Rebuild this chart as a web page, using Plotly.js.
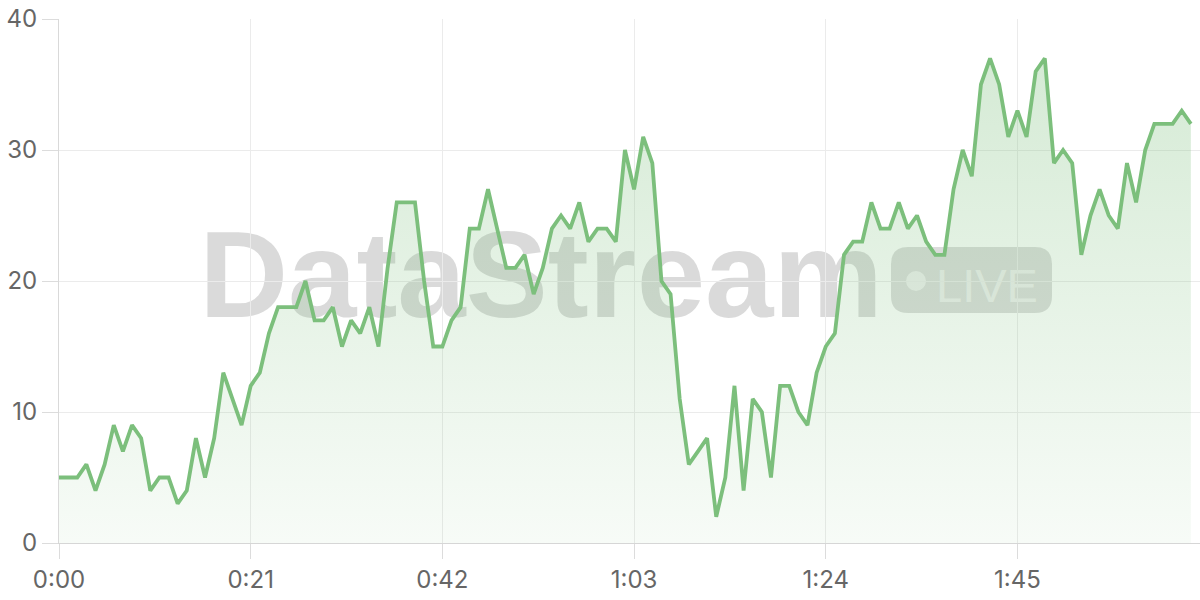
<!DOCTYPE html>
<html>
<head>
<meta charset="utf-8">
<script src="https://cdn.plot.ly/plotly-3.0.1.min.js"></script>
<style>
  html, body { margin: 0; padding: 0; background: #ffffff; }
  #chart { width: 1200px; height: 600px; }
</style>
</head>
<body>
<div id="chart"></div>
<script>
// elapsed seconds
const seconds = [
  0,1,2,3,4,5,6,7,8,9,10,11,12,13,14,15,16,17,18,19,20,21,22,23,24,
  25,26,27,28,29,30,31,32,33,34,35,36,37,38,39,40,41,42,43,44,45,46,47,48,49,
  50,51,52,53,54,55,56,57,58,59,60,61,62,63,64,65,66,67,68,69,70,71,72,73,74,
  75,76,77,78,79,80,81,82,83,84,85,86,87,88,89,90,91,92,93,94,95,96,97,98,99,
  100,101,102,103,104,105,106,107,108,109,110,111,112,113,114,115,116,117,118,119,120,121,122,123,124
];
// stream values
const values = [
  5,5,5,6,4,6,9,7,9,8,4,5,5,3,4,8,5,8,13,11,9,12,13,16,18,
  18,18,20,17,17,18,15,17,16,18,15,21,26,26,26,20,15,15,17,18,24,24,27,24,21,
  21,22,19,21,24,25,24,26,23,24,24,23,30,27,31,29,20,19,11,6,7,8,2,5,12,
  4,11,10,5,12,12,10,9,13,15,16,22,23,23,26,24,24,26,24,25,23,22,22,27,30,
  28,35,37,35,31,33,31,36,37,29,30,29,22,25,27,25,24,29,26,30,32,32,32,33,32
];
const xTickVals = [0, 21, 42, 63, 84, 105];
const xTickText = ["0:00", "0:21", "0:42", "1:03", "1:24", "1:45"];
const yTickVals = [0, 10, 20, 30, 40];
const watermarkText = "DataStream";
const badgeText = "LIVE";

const W = 1200, H = 600;
const M = { l: 59, r: 0, t: 19, b: 57 };
const PW = W - M.l - M.r, PH = H - M.t - M.b;
const px = x => (x - M.l) / PW;
const py = y => (H - M.b - y) / PH;

function roundRectPath(x0, y0, x1, y1, r) {
  const a = px(x0), b = px(x1), top = py(y0), bot = py(y1);
  const rx = r / PW, ry = r / PH;
  return `M ${a + rx},${bot} L ${b - rx},${bot} Q ${b},${bot} ${b},${bot + ry} ` +
         `L ${b},${top - ry} Q ${b},${top} ${b - rx},${top} ` +
         `L ${a + rx},${top} Q ${a},${top} ${a},${top - ry} ` +
         `L ${a},${bot + ry} Q ${a},${bot} ${a + rx},${bot} Z`;
}

const lineColor = "#7cbf7c";

const trace = {
  x: seconds,
  y: values,
  type: "scatter",
  mode: "lines",
  line: { color: lineColor, width: 3.8, shape: "linear" },
  fill: "tozeroy",
  fillgradient: {
    type: "vertical",
    start: 0,
    stop: 40,
    colorscale: [
      [0, "rgba(124,191,124,0.06)"],
      [1, "rgba(124,191,124,0.34)"]
    ]
  },
  hoverinfo: "skip"
};

const tickFont = { family: "Inter, 'Liberation Sans', sans-serif", size: 24, color: "#666666" };

const layout = {
  width: W,
  height: H,
  margin: M,
  paper_bgcolor: "#ffffff",
  plot_bgcolor: "#ffffff",
  showlegend: false,
  xaxis: {
    range: [0, 125],
    tickmode: "array",
    tickvals: xTickVals,
    ticktext: xTickText,
    showgrid: true,
    gridcolor: "#ebebeb",
    gridwidth: 1,
    ticks: "outside",
    ticklen: 15,
    tickcolor: "#dcdcdc",
    tickwidth: 1,
    showline: true,
    linecolor: "#d6d6d6",
    linewidth: 1,
    zeroline: false,
    tickfont: tickFont,
    fixedrange: true
  },
  yaxis: {
    range: [0, 40],
    tickmode: "array",
    tickvals: yTickVals,
    showgrid: true,
    gridcolor: "#ebebeb",
    gridwidth: 1,
    ticks: "outside",
    ticklen: 16,
    tickcolor: "#dcdcdc",
    tickwidth: 1,
    showline: true,
    linecolor: "#d9d9d9",
    linewidth: 1,
    zeroline: false,
    tickfont: tickFont,
    fixedrange: true
  },
  shapes: [
    {
      type: "rect", xref: "paper", yref: "paper", layer: "below",
      x0: px(186), x1: px(896), y0: py(320), y1: py(204),
      fillcolor: "rgba(0,0,0,0)", line: { width: 0 },
      label: {
        text: "<b>" + watermarkText + "</b>",
        textposition: "middle center",
        font: { family: "'Liberation Sans', Arial, sans-serif", size: 123, color: "rgba(100,100,100,0.24)" }
      }
    },
    {
      type: "path", xref: "paper", yref: "paper", layer: "below",
      path: roundRectPath(891, 247, 1052, 313, 17),
      fillcolor: "rgba(120,120,120,0.26)", line: { width: 0 }
    },
    {
      type: "circle", xref: "paper", yref: "paper", layer: "below",
      x0: px(906), x1: px(926), y0: py(291), y1: py(271),
      fillcolor: "rgba(255,255,255,0.55)", line: { width: 0 }
    },
    {
      type: "rect", xref: "paper", yref: "paper", layer: "below",
      x0: px(936), x1: px(1038), y0: py(305), y1: py(257),
      fillcolor: "rgba(0,0,0,0)", line: { width: 0 },
      label: {
        text: badgeText,
        textposition: "middle center",
        font: { family: "'Liberation Sans', Arial, sans-serif", size: 47, color: "rgba(255,255,255,0.55)" }
      }
    }
  ]
};

Plotly.newPlot("chart", [trace], layout, { displayModeBar: false, staticPlot: true });
</script>
</body>
</html>
